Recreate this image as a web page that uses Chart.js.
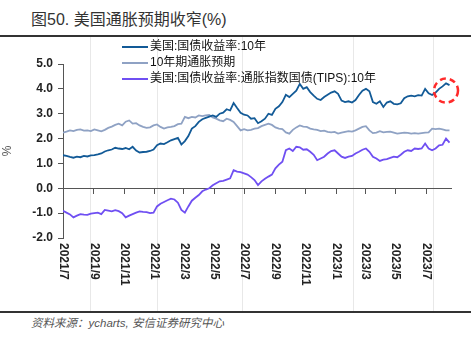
<!DOCTYPE html>
<html lang="zh">
<head>
<meta charset="UTF-8" />
<title>美国通胀预期收窄</title>
<script src="https://cdn.jsdelivr.net/npm/chart.js"></script>
<style>
    body {
        margin: 0;
        width: 476px;
        height: 338px;
        background: #fff;
        position: relative;
        overflow: hidden;
        font-family: "Liberation Sans", "Noto Sans CJK SC", sans-serif;
    }
    #title {
        position: absolute;
        left: 31px;
        top: 6px;
        font-size: 16px;
        color: #333;
        font-family: "Liberation Sans", "Noto Sans CJK SC", sans-serif;
    }
    .rule {
        position: absolute;
        left: 0;
        width: 471px;
        height: 2px;
        background: #333;
    }
    .vline {
        position: absolute;
        width: 1px;
        top: 37px;
        height: 274px;
        background: #e8e8e8;
    }
    #source {
        position: absolute;
        left: 31px;
        top: 314px;
        font-size: 11.5px;
        font-style: italic;
        color: #555;
    }
    #box {
        position: absolute;
        left: 0;
        top: 37px;
        width: 476px;
        height: 274px;
    }
</style>
</head>
<body>

<div id="title">图50. 美国通胀预期收窄(%)</div>
<div class="rule" style="top:35px"></div>
<div class="vline" style="left:90px"></div>
<div class="vline" style="left:157px"></div>
<div class="vline" style="left:242px"></div>
<div class="vline" style="left:353px"></div>
<div class="vline" style="left:433px"></div>
<div id="box"><canvas id="chart"></canvas></div>
<div class="rule" style="top:311px"></div>
<div id="source">资料来源：ycharts, 安信证券研究中心</div>

<script>
    // weekly observations, starting from this date
    const firstWeek = '2021-07-01';

    const seriesNames = [
        '美国:国债收益率:10年',
        '10年期通胀预期',
        '美国:国债收益率:通胀指数国债(TIPS):10年'
    ];

    // 美国10年期国债收益率 (%)
    const nominal10y = [
        1.33, 1.30, 1.26, 1.23, 1.27, 1.25, 1.30, 1.28, 1.32, 1.33,
        1.36, 1.40, 1.48, 1.53, 1.56, 1.63, 1.60, 1.58, 1.62, 1.57,
        1.67, 1.52, 1.44, 1.46, 1.47, 1.50, 1.56, 1.73, 1.80, 1.78,
        1.85, 1.93, 1.98, 2.03, 1.76, 1.90, 2.10, 2.40, 2.50, 2.67,
        2.78, 2.83, 2.88, 2.93, 2.87, 3.00, 3.04, 3.18, 3.13, 3.43,
        3.23, 3.04, 2.96, 2.93, 2.80, 2.82, 2.62, 2.70, 2.80, 3.00,
        2.95, 3.20, 3.30, 3.47, 3.76, 3.67, 3.80, 3.93, 4.20, 4.00,
        4.07, 3.87, 3.73, 3.60, 3.55, 3.67, 3.76, 3.85, 3.90, 3.80,
        3.53, 3.47, 3.50, 3.45, 3.55, 3.75, 3.93, 4.00, 3.90, 3.47,
        3.40, 3.50, 3.27, 3.45, 3.50, 3.40, 3.38, 3.42, 3.62, 3.70,
        3.73, 3.70, 3.75, 3.73, 4.00, 3.82, 3.75, 3.85, 4.00, 4.10,
        4.22, 4.15
    ];

    // 10年期通胀预期 (%)
    const breakeven10y = [
        2.24, 2.28, 2.33, 2.30, 2.35, 2.37, 2.32, 2.33, 2.30, 2.37,
        2.33, 2.29, 2.35, 2.43, 2.48, 2.55, 2.60, 2.53, 2.68, 2.73,
        2.60, 2.62, 2.53, 2.47, 2.43, 2.45, 2.53, 2.57, 2.47, 2.40,
        2.45, 2.47, 2.50, 2.58, 2.60, 2.87, 2.82, 2.87, 2.85, 2.93,
        2.90, 2.93, 2.95, 2.85, 2.80, 2.73, 2.70, 2.80, 2.75, 2.67,
        2.50, 2.33, 2.38, 2.33, 2.35, 2.40, 2.42, 2.50, 2.55, 2.60,
        2.55, 2.45, 2.40, 2.38, 2.25, 2.20, 2.35, 2.45, 2.53, 2.48,
        2.47, 2.40, 2.37, 2.35, 2.30, 2.32, 2.27, 2.25, 2.27, 2.20,
        2.24, 2.27, 2.30, 2.28, 2.33, 2.40, 2.47, 2.50, 2.33, 2.22,
        2.24, 2.30, 2.25, 2.27, 2.28, 2.24, 2.20, 2.22, 2.24, 2.23,
        2.20, 2.22, 2.20, 2.22, 2.24, 2.25, 2.40, 2.38, 2.40, 2.37,
        2.33, 2.33
    ];

    // 美国10年期TIPS收益率 (%)
    const tips10y = [
        -0.90, -0.98, -1.05, -1.17, -1.10, -1.04, -1.06, -1.07, -1.02, -1.00,
        -0.98, -1.04, -0.87, -0.90, -0.93, -0.88, -0.92, -1.00, -1.17, -1.10,
        -1.04, -0.98, -0.93, -0.95, -0.96, -1.00, -0.98, -0.73, -0.62, -0.55,
        -0.48, -0.42, -0.45, -0.58, -0.87, -0.98, -0.73, -0.50, -0.38, -0.27,
        -0.12, -0.05, 0.00, 0.12, 0.20, 0.28, 0.30, 0.35, 0.40, 0.73,
        0.67, 0.65, 0.60, 0.55, 0.45, 0.33, 0.13, 0.28, 0.38, 0.47,
        0.55, 0.80, 0.95, 1.07, 1.53, 1.60, 1.50, 1.67, 1.65, 1.55,
        1.57, 1.47, 1.35, 1.13, 1.20, 1.27, 1.40, 1.50, 1.53, 1.40,
        1.27, 1.22, 1.27, 1.30, 1.40, 1.47, 1.55, 1.60, 1.47, 1.27,
        1.20, 1.10, 1.15, 1.17, 1.22, 1.27, 1.25, 1.35, 1.47, 1.53,
        1.50, 1.60, 1.58, 1.60, 1.80, 1.60, 1.53, 1.60, 1.73, 1.75,
        2.00, 1.84
    ];

    const xTickLabels = ['2021/7', '2021/9', '2021/11', '2022/1', '2022/3', '2022/5',
        '2022/7', '2022/9', '2022/11', '2023/1', '2023/3', '2023/5', '2023/7'];
    const yTicks = [-2, -1, 0, 1, 2, 3, 4, 5];

    // red dashed circle marking the latest move
    const highlightDate = '2023-08-10';
    const highlightValue = 3.93;

    const colors = ['#125a97', '#8fa2c4', '#6f4ff2'];

    const DAY = 86400000;
    const t0 = Date.parse(firstWeek);
    function daysFrom(str) {
        return (Date.parse(str) - t0) / DAY;
    }
    function labelToDay(label) {
        const [y, m] = label.split('/');
        return daysFrom(y + '-' + String(m).padStart(2, '0') + '-01');
    }
    function toPoints(values) {
        return values.map((v, i) => ({ x: i * 7, y: v }));
    }

    const lastDay = (nominal10y.length - 1) * 7 + 3;

    const customDraw = {
        id: 'customDraw',
        afterDraw(chart) {
            const ctx = chart.ctx;
            const xs = chart.scales.x;
            const ys = chart.scales.y;
            const area = chart.chartArea;

            // x labels, rotated clockwise
            ctx.save();
            ctx.font = 'bold 12px "Liberation Sans", Arial, sans-serif';
            ctx.fillStyle = '#222';
            ctx.textAlign = 'left';
            ctx.textBaseline = 'middle';
            xTickLabels.forEach(label => {
                const px = xs.getPixelForValue(labelToDay(label));
                ctx.save();
                ctx.translate(px, area.bottom + 5);
                ctx.rotate(Math.PI / 2);
                ctx.fillText(label, 0, 0);
                ctx.restore();
            });
            ctx.restore();

            // legend
            ctx.save();
            ctx.font = '12px "Liberation Sans", "Noto Sans CJK SC", sans-serif';
            ctx.textBaseline = 'middle';
            chart.data.datasets.forEach((ds, i) => {
                const y = 10 + i * 16;
                ctx.strokeStyle = ds.borderColor;
                ctx.lineWidth = 2;
                ctx.beginPath();
                ctx.moveTo(122, y);
                ctx.lineTo(148, y);
                ctx.stroke();
                ctx.fillStyle = '#111';
                ctx.fillText(ds.label, 150, y);
            });
            ctx.restore();

            // highlight circle
            ctx.save();
            ctx.strokeStyle = '#ff2a2a';
            ctx.lineWidth = 2.5;
            ctx.setLineDash([6, 4]);
            ctx.beginPath();
            ctx.arc(xs.getPixelForValue(daysFrom(highlightDate)), ys.getPixelForValue(highlightValue), 12, 0, Math.PI * 2);
            ctx.stroke();
            ctx.restore();
        }
    };

    new Chart(document.getElementById('chart'), {
        type: 'line',
        data: {
            datasets: [
                { label: seriesNames[0], data: toPoints(nominal10y), borderColor: colors[0] },
                { label: seriesNames[1], data: toPoints(breakeven10y), borderColor: colors[1] },
                { label: seriesNames[2], data: toPoints(tips10y), borderColor: colors[2] }
            ].map(ds => Object.assign(ds, {
                borderWidth: 1.8,
                pointRadius: 0,
                tension: 0,
                fill: false
            }))
        },
        options: {
            responsive: true,
            maintainAspectRatio: false,
            animation: false,
            events: [],
            layout: { padding: { top: 27, bottom: 73, left: 0, right: 25 } },
            plugins: {
                legend: { display: false },
                tooltip: { enabled: false }
            },
            scales: {
                x: {
                    type: 'linear',
                    position: { y: 0 },
                    min: 0,
                    max: lastDay,
                    afterBuildTicks: scale => {
                        scale.ticks = xTickLabels.map(l => ({ value: labelToDay(l) }));
                    },
                    ticks: { display: false },
                    grid: { drawOnChartArea: false, tickLength: 5, color: '#555' },
                    border: { color: '#555', width: 1 }
                },
                y: {
                    min: -2,
                    max: 5,
                    afterBuildTicks: scale => {
                        scale.ticks = yTicks.map(v => ({ value: v }));
                    },
                    afterFit: scale => { scale.width = 63; },
                    ticks: {
                        color: '#222',
                        padding: 5,
                        font: { size: 12, weight: 'bold', family: '"Liberation Sans", Arial, sans-serif' },
                        callback: v => v.toFixed(1)
                    },
                    grid: { drawOnChartArea: false, tickLength: 5, color: '#555' },
                    border: { color: '#555', width: 1 },
                    title: {
                        display: true,
                        text: '%',
                        color: '#555',
                        padding: { top: 0, bottom: 0 },
                        font: { size: 12 }
                    }
                }
            }
        },
        plugins: [customDraw]
    });
</script>

</body>
</html>
